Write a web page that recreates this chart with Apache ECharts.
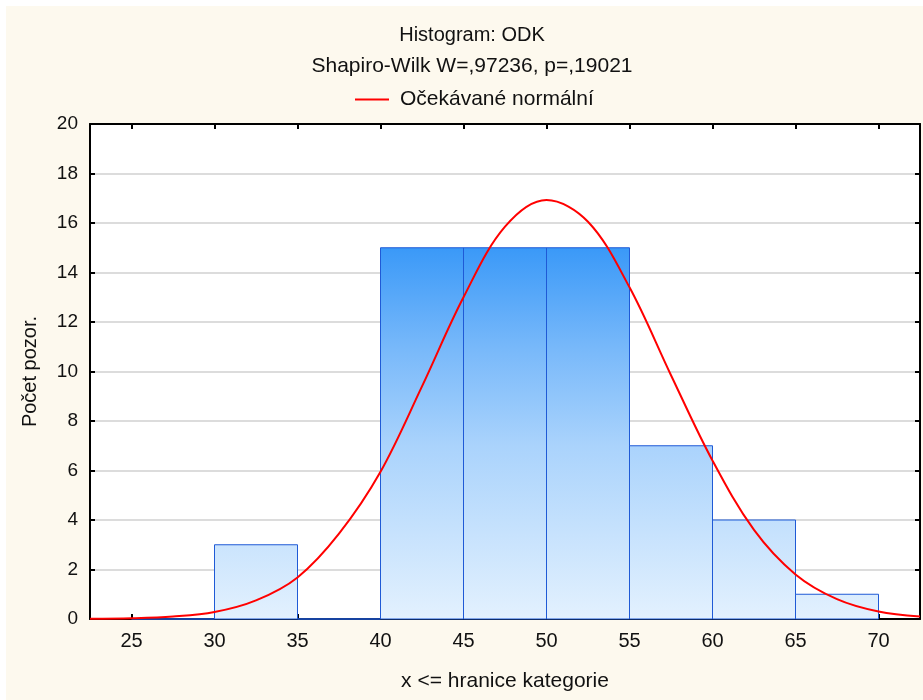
<!DOCTYPE html>
<html>
<head>
<meta charset="utf-8">
<script src="https://cdn.jsdelivr.net/npm/echarts@6/dist/echarts.min.js"></script>
<style>
  html, body { margin: 0; padding: 0; background: #ffffff; }
  #chart { position: absolute; left: 6px; top: 6px; width: 917px; height: 694px; background: #fdf9ee; }
</style>
</head>
<body>
<div id="chart"></div>
<script>
// Histogram bins (lower and upper bounds) and observation counts
const binStarts = [25, 30, 35, 40, 45, 50, 55, 60, 65];
const binEnds   = [30, 35, 40, 45, 50, 55, 60, 65, 70];
const counts    = [0, 3, 0, 15, 15, 15, 7, 4, 1];

// Expected normal curve, sampled every 2.5 units
const curveX = [22.5, 25, 27.5, 30, 32.5, 35, 37.5, 40, 42.5, 45, 47.5, 50, 52.5, 55, 57.5, 60, 62.5, 65, 67.5, 70, 72.5];
const curveY = [0.01, 0.03, 0.10, 0.28, 0.75, 1.68, 3.45, 5.95, 9.4, 13.0, 15.85, 16.93, 16.05, 13.4, 9.85, 6.4, 3.6, 1.8, 0.8, 0.3, 0.1];

// Axis tick values
const xTicks = [25, 30, 35, 40, 45, 50, 55, 60, 65, 70];

const titleText = 'Histogram: ODK';
const subText = 'Shapiro-Wilk W=,97236, p=,19021';
const curveName = 'Očekávané normální';
const xName = 'x <= hranice kategorie';
const yName = 'Počet pozor.';

const binData = binStarts.map((s, i) => [s, binEnds[i], counts[i]]);
const curveData = curveX.map((x, i) => [x, curveY[i]]);

const FONT = 'Liberation Sans, Arial, sans-serif';
const gradStops = [
  { offset: 0, color: '#2a8cf6' },
  { offset: 0.25, color: '#3a99f8' },
  { offset: 0.45, color: '#77b8fa' },
  { offset: 0.65, color: '#aad3fc' },
  { offset: 1, color: '#e3f1fe' }
];

function renderBin(params, api) {
  const x0 = api.value(0), x1 = api.value(1), n = api.value(2);
  const pTop = api.coord([x0, n]);
  const pBot = api.coord([x1, 0]);
  const yMaxPx = api.coord([x0, 20])[1];
  const yMinPx = api.coord([x0, 0])[1];
  return {
    type: 'rect',
    shape: { x: pTop[0], y: pTop[1], width: pBot[0] - pTop[0], height: pBot[1] - pTop[1] },
    style: {
      fill: new echarts.graphic.LinearGradient(0, yMaxPx, 0, yMinPx, gradStops, true),
      stroke: '#1f5ad6',
      lineWidth: 1
    }
  };
}

const chart = echarts.init(document.getElementById('chart'), null, { renderer: 'canvas' });

const xBase = {
  type: 'value', min: 22.5, max: 72.5,
  splitLine: { show: false },
  axisLine: { show: true, onZero: false, lineStyle: { color: '#000', width: 2 } },
  axisTick: { show: true, inside: true, length: 5, customValues: xTicks, lineStyle: { color: '#000', width: 2 } }
};
const yBase = {
  type: 'value', min: 0, max: 20, interval: 2,
  axisLine: { show: true, lineStyle: { color: '#000', width: 2 } },
  axisTick: { show: true, inside: true, length: 5, lineStyle: { color: '#000', width: 2 } }
};

chart.setOption({
  animation: false,
  textStyle: { fontFamily: FONT },
  title: {
    text: titleText,
    subtext: subText,
    left: 461,
    textAlign: 'center',
    top: 14,
    itemGap: 11,
    textStyle: { fontFamily: FONT, fontSize: 20, fontWeight: 'normal', color: '#111' },
    subtextStyle: { fontFamily: FONT, fontSize: 21, color: '#111' }
  },
  legend: {
    top: 83,
    left: 349,
    padding: 0,
    icon: 'rect',
    itemWidth: 34,
    itemHeight: 2,
    data: [curveName],
    textStyle: { fontFamily: FONT, fontSize: 21, color: '#111', padding: [0, 0, 0, 6] }
  },
  grid: {
    left: 84, right: 3, top: 118, bottom: 81,
    show: true, backgroundColor: '#ffffff', borderColor: '#000', borderWidth: 0
  },
  xAxis: [
    Object.assign({}, xBase, {
      position: 'bottom',
      name: xName, nameLocation: 'middle', nameGap: 52,
      nameTextStyle: { fontFamily: FONT, fontSize: 21, color: '#111' },
      axisLabel: { show: true, customValues: xTicks, margin: 12, fontFamily: FONT, fontSize: 20, color: '#111' }
    }),
    Object.assign({}, xBase, { position: 'top', axisLabel: { show: false } })
  ],
  yAxis: [
    Object.assign({}, yBase, {
      position: 'left',
      name: yName, nameLocation: 'middle', nameGap: 50, nameRotate: 90,
      nameTextStyle: { fontFamily: FONT, fontSize: 20, color: '#111' },
      axisLabel: { show: true, margin: 12, fontFamily: FONT, fontSize: 19, color: '#111' },
      splitLine: { show: true, lineStyle: { color: '#dcdcdc', width: 2 } }
    }),
    Object.assign({}, yBase, { position: 'right', axisLabel: { show: false }, splitLine: { show: false } })
  ],
  series: [
    {
      name: 'bins',
      type: 'custom',
      xAxisIndex: 0, yAxisIndex: 0,
      renderItem: renderBin,
      encode: { x: [0, 1], y: 2 },
      data: binData,
      z: 2
    },
    {
      name: curveName,
      type: 'line',
      xAxisIndex: 0, yAxisIndex: 0,
      data: curveData,
      smooth: 0.35,
      symbol: 'none',
      color: '#ff0000',
      lineStyle: { color: '#ff0000', width: 2 },
      z: 5
    }
  ]
});
</script>
</body>
</html>
